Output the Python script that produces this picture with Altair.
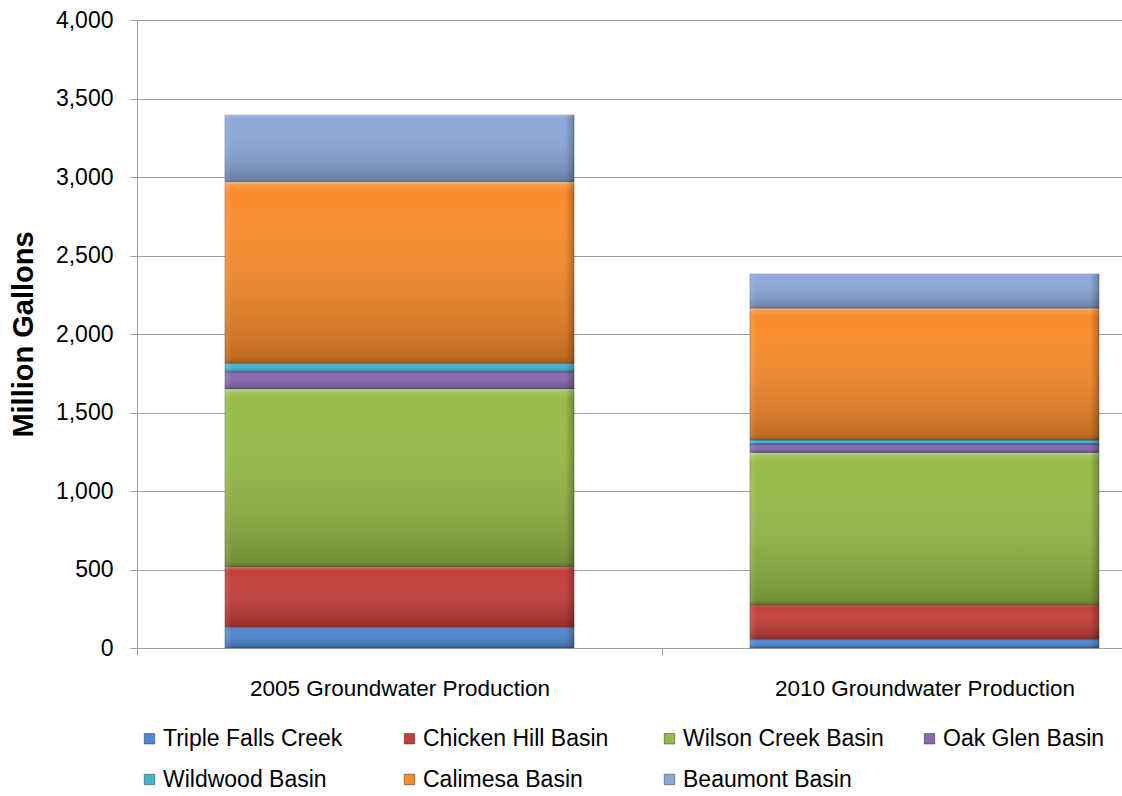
import altair as alt
import pandas as pd

# Groundwater production by source, million gallons
years = ["2005 Groundwater Production", "2010 Groundwater Production"]
sources = [
    "Triple Falls Creek",
    "Chicken Hill Basin",
    "Wilson Creek Basin",
    "Oak Glen Basin",
    "Wildwood Basin",
    "Calimesa Basin",
    "Beaumont Basin",
]
values_2005 = [130, 385, 1135, 108, 55, 1157, 425]
values_2010 = [55, 219, 970, 55, 26, 839, 218]
palette = ["#4f88d0", "#c43e3b", "#98bb48", "#8a68b0", "#45b4d0", "#f98c2c", "#8ba8d8"]
y_ticks = [0, 500, 1000, 1500, 2000, 2500, 3000, 3500, 4000]

rows = []
for year, vals in zip(years, [values_2005, values_2010]):
    for i, (src, v) in enumerate(zip(sources, vals)):
        rows.append({"year": year, "source": src, "idx": i, "value": v})
df = pd.DataFrame(rows)

FONT = "Liberation Sans"
BAR_WIDTH = alt.RelativeBandSize(0.665)

base = alt.Chart(df).transform_stack(
    stack="value",
    groupby=["year"],
    sort=[alt.SortField("idx", order="ascending")],
    as_=["y0", "y1"],
)

# The category bands run a little past the right edge of the drawing area
x_scale = alt.Scale(domain=years, range=[0, 1050], paddingInner=0, paddingOuter=0)
y_scale = alt.Scale(domain=[0, 4000], nice=False)

x_enc = alt.X(
    "year:N",
    sort=years,
    title=None,
    scale=x_scale,
    axis=alt.Axis(
        labelAngle=0,
        labelFont=FONT,
        labelFontSize=22.5,
        labelColor="#000000",
        labelPadding=22,
        labelLimit=500,
        tickBand="extent",
        tickSize=7,
        tickColor="#a0a0a0",
        domainColor="#a0a0a0",
        grid=False,
    ),
)
y_enc = alt.Y(
    "y1:Q",
    title="Million Gallons",
    scale=y_scale,
    axis=alt.Axis(
        values=y_ticks,
        format=",.0f",
        labelFont=FONT,
        labelFontSize=23,
        labelColor="#000000",
        labelPadding=17,
        tickSize=7,
        tickColor="#a0a0a0",
        domainColor="#a0a0a0",
        gridColor="#a0a0a0",
        titleFont=FONT,
        titleFontSize=29,
        titleFontWeight="bold",
        titleColor="#000000",
        titlePadding=17,
    ),
)

bars = base.mark_bar(
    width=BAR_WIDTH, stroke="#000000", strokeOpacity=0.25, strokeWidth=1
).encode(
    x=x_enc,
    y=y_enc,
    y2="y0:Q",
    color=alt.Color(
        "source:N",
        sort=sources,
        scale=alt.Scale(domain=sources, range=palette),
        legend=alt.Legend(
            title=None,
            orient="none",
            legendX=1,
            legendY=707,
            direction="horizontal",
            columns=4,
            gridAlign="all",
            columnPadding=34,
            rowPadding=17,
            symbolType="square",
            symbolSize=110,
            symbolStrokeColor="#333333",
            symbolStrokeWidth=0.5,
            labelFont=FONT,
            labelFontSize=23,
            labelColor="#000000",
            labelOffset=2,
            labelLimit=400,
        ),
    ),
)

# Bevel-like shading laid over every segment: light top edge, darkening downwards
shade_v = alt.Gradient(
    gradient="linear",
    x1=0, y1=0, x2=0, y2=1,
    stops=[
        alt.GradientStop(offset=0, color="rgba(255,255,255,0.5)"),
        alt.GradientStop(offset=0.015, color="rgba(255,255,255,0.15)"),
        alt.GradientStop(offset=0.06, color="rgba(255,255,255,0.0)"),
        alt.GradientStop(offset=0.92, color="rgba(0,0,0,0.2)"),
        alt.GradientStop(offset=0.97, color="rgba(0,0,0,0.24)"),
        alt.GradientStop(offset=1, color="rgba(0,0,0,0.38)"),
    ],
)
# Darker side edges
shade_h = alt.Gradient(
    gradient="linear",
    x1=0, y1=0, x2=1, y2=0,
    stops=[
        alt.GradientStop(offset=0, color="rgba(255,255,255,0.12)"),
        alt.GradientStop(offset=0.02, color="rgba(255,255,255,0.0)"),
        alt.GradientStop(offset=0.975, color="rgba(0,0,0,0.0)"),
        alt.GradientStop(offset=1, color="rgba(0,0,0,0.25)"),
    ],
)
gloss_v = base.mark_bar(width=BAR_WIDTH, fill=shade_v, strokeWidth=0).encode(
    x=alt.X("year:N", sort=years, scale=x_scale),
    y=alt.Y("y1:Q", scale=y_scale),
    y2="y0:Q",
)
gloss_h = base.mark_bar(width=BAR_WIDTH, fill=shade_h, strokeWidth=0).encode(
    x=alt.X("year:N", sort=years, scale=x_scale),
    y=alt.Y("y1:Q", scale=y_scale),
    y2="y0:Q",
)

chart = (
    alt.layer(bars, gloss_v, gloss_h)
    .properties(
        width=985,
        height=628,
        autosize=alt.AutoSizeParams(type="none"),
        padding={"left": 137, "top": 20, "right": 0, "bottom": 148},
    )
    .configure_view(stroke=None)
    .configure(background="#ffffff")
)

chart.save("out.html", embed_options={"renderer": "svg", "actions": False})
